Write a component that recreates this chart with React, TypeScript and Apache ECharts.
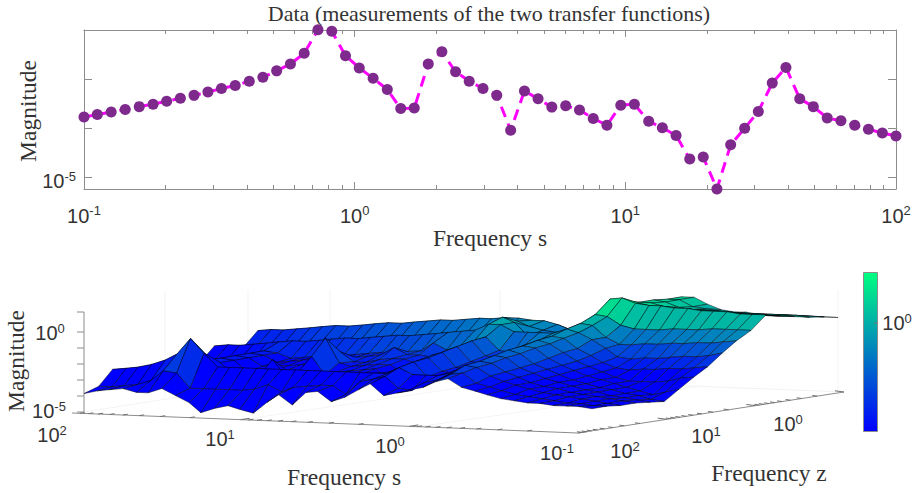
import React, { useEffect, useRef } from "react";
import * as echarts from "echarts";

const TITLE = "Data (measurements of the two transfer functions)";
const freqS = [0.1,0.112,0.126,0.142,0.16,0.18,0.202,0.227,0.255,0.287,0.322,0.362,0.408,0.458,0.515,0.579,0.651,0.732,0.823,0.925,1.04,1.17,1.32,1.48,1.66,1.87,2.1,2.36,2.65,2.98,3.35,3.77,4.24,4.76,5.35,6.02,6.77,7.61,8.55,9.62,10.8,12.2,13.7,15.4,17.3,19.4,21.8,24.5,27.6,31,34.9,39.2,44.1,49.5,55.7,62.6,70.4,79.1,89,100];
const magnitudeLog10 = [-3.76,-3.71,-3.66,-3.61,-3.55,-3.5,-3.44,-3.38,-3.32,-3.25,-3.18,-3.12,-3.03,-2.95,-2.82,-2.68,-2.46,-1.98,-2.01,-2.51,-2.76,-2.97,-3.2,-3.59,-3.58,-2.68,-2.43,-2.84,-3.03,-3.18,-3.32,-4.03,-3.23,-3.39,-3.56,-3.53,-3.62,-3.79,-3.93,-3.52,-3.5,-3.85,-3.98,-4.14,-4.62,-4.58,-5.23,-4.33,-3.99,-3.65,-3.07,-2.75,-3.39,-3.55,-3.78,-3.84,-3.93,-4.01,-4.09,-4.15];
const decades = [0.1, 1, 10, 100];
const minorTicks = [0.2,0.3,0.4,0.5,0.6,0.7,0.8,0.9,2,3,4,5,6,7,8,9,20,30,40,50,60,70,80,90];
const yTicks = [1e-5, 1e-4, 1e-3, 1e-2];
const yLabels = [1e-5];

// Surface: log10 of frequency along each side, log10 magnitude in tenths (rows: z, columns: s)
const surfaceLogS = [2,1.92,1.85,1.77,1.69,1.62,1.54,1.46,1.38,1.31,1.23,1.15,1.08,1,0.92,0.85,0.77,0.69,0.62,0.54,0.46,0.38,0.31,0.23,0.15,0.08,0,-0.08,-0.15,-0.23,-0.31,-0.38,-0.46,-0.54,-0.62,-0.69,-0.77,-0.85,-0.92,-1];
const surfaceLogZ = [2,1.82,1.65,1.47,1.29,1.12,0.94,0.76,0.59,0.41,0.24,0.06,-0.12,-0.29,-0.47,-0.65,-0.82,-1];
const surfaceTenths = [
[-38,-36,-35,-34,-36,-36,-33,-37,-41,-47,-44,-42,-44,-46,-39,-34,-40,-32,-31,-37,-34,-29,-25,-32,-30,-28,-26,-22,-20,-25,-27,-29,-31,-32,-33,-33,-34,-34,-34,-35],
[-35,-35,-34,-33,-30,-24,-25,-34,-34,-34,-34,-34,-33,-30,-34,-31,-30,-29,-29,-34,-26,-24,-22,-29,-30,-25,-23,-19,-18,-24,-26,-28,-30,-31,-32,-33,-34,-34,-35,-35],
[-26,-25,-24,-22,-19,-15,-5,-14,-22,-22,-22,-22,-22,-22,-22,-22,-22,-22,-22,-22,-22,-22,-18,-22,-22,-22,-20,-15,-16,-21,-24,-26,-28,-30,-31,-32,-33,-34,-35,-36],
[-34,-33,-33,-32,-29,-22,-16,-29,-29,-29,-29,-29,-29,-26,-29,-28,-27,-26,-25,-29,-23,-20,-16,-25,-26,-21,-18,-14,-15,-20,-23,-26,-28,-29,-31,-32,-33,-34,-35,-36],
[-38,-36,-34,-32,-29,-22,-23,-30,-34,-32,-20,-30,-28,-17,-28,-26,-25,-24,-23,-30,-21,-18,-15,-23,-24,-19,-16,-12,-13,-19,-22,-25,-27,-29,-31,-32,-34,-35,-36,-37],
[-36,-35,-35,-32,-29,-22,-23,-30,-30,-29,-28,-28,-20,-7,-22,-24,-23,-22,-22,-27,-19,-17,-13,-22,-23,-18,-15,-10,-12,-18,-21,-24,-27,-29,-31,-32,-34,-35,-37,-38],
[-34,-33,-32,-31,-29,-22,-23,-28,-27,-27,-26,-25,-24,-17,-23,-23,-21,-20,-20,-23,-17,-15,-11,-20,-21,-16,-13,-9,-10,-16,-20,-23,-26,-28,-30,-32,-34,-36,-34,-32],
[-32,-31,-30,-30,-29,-22,-23,-27,-26,-25,-24,-23,-23,-22,-21,-20,-15,-19,-19,-20,-16,-13,-9,-18,-19,-14,-11,-7,-9,-14,-19,-22,-25,-28,-30,-30,-30,-29,-27,-26],
[-31,-30,-30,-29,-28,-22,-23,-26,-25,-24,-23,-23,-22,-21,-20,-20,-19,-18,-13,-17,-14,-11,-8,-16,-17,-12,-9,-6,-7,-13,-17,-21,-24,-25,-24,-24,-23,-23,-22,-21],
[-22,-21,-21,-20,-19,-18,-17,-17,-16,-15,-14,-14,-13,-12,-11,-11,-10,-9,-8,-7,-6,-2,-2,-6,-6,-6,-6,-3,-5,-9,-14,-19,-20,-19,-19,-18,-17,-17,-16,-14],
[-29,-28,-27,-26,-25,-25,-24,-23,-22,-22,-21,-20,-19,-19,-18,-17,-16,-15,-15,-14,-9,1,-2,-10,-11,-9,-5,-1,-2,-9,-13,-13,-12,-12,-11,-11,-10,-10,-9,-8],
[-26,-25,-25,-24,-23,-22,-21,-21,-20,-19,-18,-18,-17,-16,-15,-15,-14,-13,-12,-11,-11,-3,-6,-8,-9,-8,-3,3,2,-3,-5,-5,-5,-4,-4,-4,-3,-3,-3,-3],
[-17,-16,-16,-15,-14,-13,-12,-12,-11,-10,-9,-9,-8,-7,-6,-6,-5,-4,-4,-3,-3,-4,-4,-6,-9,-8,-4,11,12,9,8,8,7,7,6,6,6,5,5,5],
[-25,-24,-24,-23,-22,-21,-20,-20,-19,-18,-17,-17,-16,-15,-14,-14,-13,-12,-11,-10,-10,-10,-10,-11,-11,-9,-5,8,8,6,5,5,4,4,4,4,3,3,3,3],
[-28,-27,-27,-26,-25,-24,-24,-23,-22,-21,-21,-20,-19,-18,-18,-17,-16,-15,-14,-14,-13,-13,-12,-12,-12,-10,-6,6,6,4,3,3,2,2,1,1,1,1,1,1],
[-30,-30,-29,-28,-27,-27,-26,-25,-24,-23,-23,-22,-21,-20,-20,-19,-18,-17,-17,-16,-15,-14,-13,-13,-13,-11,-7,6,5,2,1,1,0,0,0,0,0,0,0,-1],
[-32,-32,-31,-30,-29,-29,-28,-27,-26,-26,-25,-24,-23,-23,-22,-21,-20,-19,-19,-18,-16,-15,-14,-14,-14,-11,-8,5,5,1,0,-1,-2,-2,-2,-2,-2,-2,-2,-2],
[-34,-33,-33,-32,-31,-30,-30,-29,-28,-27,-27,-26,-25,-24,-24,-23,-22,-21,-20,-20,-17,-15,-15,-15,-15,-12,-9,5,5,1,-2,-3,-3,-4,-4,-4,-4,-4,-4,-4],
];
const logTickDigits = [1, 2, 3, 4, 5, 6, 7, 8, 9];
const colorMinLog = -2.6;
const colorMaxLog = 1.2;

const SERIF = '"Liberation Serif", serif';
const SANS = '"Liberation Sans", sans-serif';
const INK = "#333333";
const AXIS = "#8c8c8c";

// view projection of the 3-D box: log10 s, log10 z, log10 magnitude -> page pixels
const project = (ls: number, lz: number, lm: number) => {
  const u = (2 - ls) / 3;
  const v = (2 - lz) / 3;
  return [84 + 508 * u + 246 * v, 413 + 20 * u - 41 * v - 16.2 * (lm + 5)];
};
const cellColor = (e: number) => {
  const t = Math.max(0, Math.min(1, (e - colorMinLog) / (colorMaxLog - colorMinLog)));
  return `rgb(0,${Math.round(255 * t)},${Math.round(255 - 127 * t)})`;
};
const powerLabel = (e: number | string) => `{b|10}{s|${e}}`;
const rich = { b: { fontFamily: SANS, fontSize: 20, fill: INK, color: INK }, s: { fontFamily: SANS, fontSize: 13, fill: INK, color: INK, padding: [0, 0, 10, 0] } };

const line = (x1: number, y1: number, x2: number, y2: number, stroke = AXIS, lineWidth = 1) => ({
  type: "line", silent: true, shape: { x1, y1, x2, y2 }, style: { stroke, lineWidth },
});
const power = (x: number, y: number, e: number | string) => ({
  type: "text", silent: true, x, y,
  style: { text: powerLabel(e), rich, align: "center", verticalAlign: "middle", fill: INK },
});
const serifText = (text: string, x: number, y: number, rotation = 0) => ({
  type: "text", silent: true, x, y, rotation,
  style: { text, font: `23.5px ${SERIF}`, fill: INK, align: "center", verticalAlign: "middle" },
});

const sAxisAt = (ls: number, side: number) => {
  const t = (2 - ls) / 3;
  return [72 + 506 * t, 413 + 20 * t + side];
};
const zAxisAt = (lz: number, side: number) => {
  const t = (2 - lz) / 3;
  return [578 + 266 * t, 433 - 41 * t + side];
};

function axisGraphics() {
  const els: any[] = [];
  // faint back-wall and floor lines
  [165, 248, 330, 500, 838].forEach((x) => els.push(line(x, 290, x, 398, "#f3f3f3")));
  els.push(line(84, 412, 338, 372, "#f3f3f3"), line(338, 372, 844, 392, "#f3f3f3"), line(240, 420, 500, 382, "#f5f5f5"), line(410, 428, 700, 386, "#f5f5f5"));
  // box axes
  els.push(line(72, 413, 578, 433), line(578, 433, 844, 392), line(84, 312, 84, 412));
  [-5, -4, -3, -2, -1, 0, 1.25].forEach((e) => {
    const y = e === 1.25 ? 312 : 412 - 16 * (e + 5);
    els.push(line(77, y, 84, y));
  });
  [-1, 0, 1].forEach((d) =>
    logTickDigits.forEach((m) => {
      const l = d + Math.log10(m);
      const a = sAxisAt(l, 0);
      els.push(line(a[0], a[1], a[0] + (m === 1 ? 9 : 5), a[1] - (m === 1 ? 1.4 : 0.8), "#707070"));
      const b = zAxisAt(l, 0);
      els.push(line(b[0], b[1], b[0] - (m === 1 ? 9 : 5), b[1] - (m === 1 ? 1.2 : 0.7), "#707070"));
    }),
  );
  // 3-D axis labels
  els.push(
    power(50, 333, 0), power(49, 411, -5), power(52, 435, 2), power(220, 439, 1), power(390, 446, 0), power(557, 453, -1),
    power(625, 451, 2), power(706, 436, 1), power(788, 424, 0),
    serifText("Frequency s", 344, 477), serifText("Frequency z", 769, 473),
    serifText("Magnitude", 16, 361, Math.PI / 2), serifText("Magnitude", 28, 111, Math.PI / 2),
  );
  // colour bar
  els.push({
    type: "rect", silent: true, shape: { x: 863.5, y: 272.5, width: 14, height: 159 },
    style: {
      stroke: AXIS, lineWidth: 1,
      fill: new echarts.graphic.LinearGradient(0, 0, 0, 1, [
        { offset: 0, color: cellColor(colorMaxLog) },
        { offset: 1, color: cellColor(colorMinLog) },
      ]),
    },
  });
  els.push(line(874, 323, 878, 323, "#777777"), power(897, 323, 0));
  return els;
}

const xAxisBase = {
  type: "log", logBase: 10, min: 0.1, max: 100, gridIndex: 0, splitLine: { show: false },
};
const yAxisBase = {
  type: "log", logBase: 10, min: Math.pow(10, -5.231), max: Math.pow(10, -1.986), gridIndex: 0, splitLine: { show: false },
  axisLabel: { show: false },
};
const axisLine = { show: true, onZero: false, lineStyle: { color: AXIS, width: 1 } };
const noLine = { show: false, onZero: false };

export default function App() {
  const ref = useRef<HTMLDivElement>(null);
  useEffect(() => {
    if (!ref.current) return;
    const chart = echarts.init(ref.current, null, { renderer: "svg" });
    const cells: number[][] = [];
    for (let j = surfaceLogZ.length - 2; j >= 0; j--) {
      for (let i = 0; i < surfaceLogS.length - 1; i++) cells.push([i, j]);
    }
    chart.setOption({
      animation: false,
      backgroundColor: "#ffffff",
      title: {
        text: TITLE, left: 489, top: 2, padding: 0, textAlign: "center",
        textStyle: { fontFamily: SERIF, fontSize: 22, fontWeight: "normal", color: INK },
      },
      grid: [
        { left: 84, right: 20, top: 30, bottom: 304 },
        { left: 0, right: 0, top: 0, bottom: 0 },
      ],
      xAxis: [
        {
          ...xAxisBase, position: "bottom", axisLine,
          axisTick: { show: true, inside: true, length: 7, customValues: decades, lineStyle: { color: AXIS } },
          axisLabel: {
            show: true, margin: 15, customValues: decades, showMinLabel: true, showMaxLabel: true,
            formatter: (v: number) => powerLabel(Math.round(Math.log10(v))), rich,
          },
          name: "Frequency s", nameLocation: "middle", nameGap: 32,
          nameTextStyle: { fontFamily: SERIF, fontSize: 23.5, color: INK },
        },
        { ...xAxisBase, position: "bottom", axisLine: noLine, axisLabel: { show: false }, axisTick: { show: true, inside: true, length: 4, customValues: minorTicks, lineStyle: { color: AXIS } } },
        { ...xAxisBase, position: "top", axisLine, axisLabel: { show: false }, axisTick: { show: true, inside: true, length: 7, customValues: decades, lineStyle: { color: AXIS } } },
        { ...xAxisBase, position: "top", axisLine: noLine, axisLabel: { show: false }, axisTick: { show: true, inside: true, length: 4, customValues: minorTicks, lineStyle: { color: AXIS } } },
        { type: "value", gridIndex: 1, min: 0, max: 916, show: false },
      ],
      yAxis: [
        {
          ...yAxisBase, position: "left", axisLine,
          axisTick: { show: true, inside: true, length: 8, customValues: yTicks, lineStyle: { color: AXIS } },
          axisLabel: {
            show: true, margin: 8, customValues: yLabels, padding: [7, 0, 0, 0],
            formatter: (v: number) => powerLabel(Math.round(Math.log10(v))), rich,
          },
        },
        {
          ...yAxisBase, position: "right", axisLine,
          axisTick: { show: true, inside: true, length: 8, customValues: yTicks, lineStyle: { color: AXIS } },
        },
        { type: "value", gridIndex: 1, min: 0, max: 493, inverse: true, show: false },
      ],
      graphic: { elements: axisGraphics() },
      series: [
        {
          type: "line", xAxisIndex: 0, yAxisIndex: 0, clip: false, showSymbol: true, showAllSymbol: true,
          data: freqS.map((s, k) => [s, Math.pow(10, magnitudeLog10[k])]),
          symbol: "circle", symbolSize: 11,
          lineStyle: { color: "#ff00ff", width: 3, type: [11, 7] },
          itemStyle: { color: "#7d2a8c" },
        },
        {
          type: "custom", xAxisIndex: 4, yAxisIndex: 2, clip: false, silent: true,
          data: cells,
          renderItem: (_p: any, api: any) => {
            const i = api.value(0);
            const j = api.value(1);
            const corners = [[i, j], [i + 1, j], [i + 1, j + 1], [i, j + 1]];
            const vals = corners.map(([a, b]) => surfaceTenths[b][a] / 10);
            const points = corners.map(([a, b], n) => api.coord(project(surfaceLogS[a], surfaceLogZ[b], vals[n])));
            const mean = vals.reduce((p, c) => p + c, 0) / 4;
            return {
              type: "polygon",
              shape: { points },
              style: { fill: cellColor(mean), stroke: "rgba(0,0,0,0.75)", lineWidth: 0.6 },
            };
          },
        },
      ],
    });
    return () => chart.dispose();
  }, []);
  return <div ref={ref} style={{ position: "fixed", left: 0, top: 0, width: 916, height: 493 }} />;
}
